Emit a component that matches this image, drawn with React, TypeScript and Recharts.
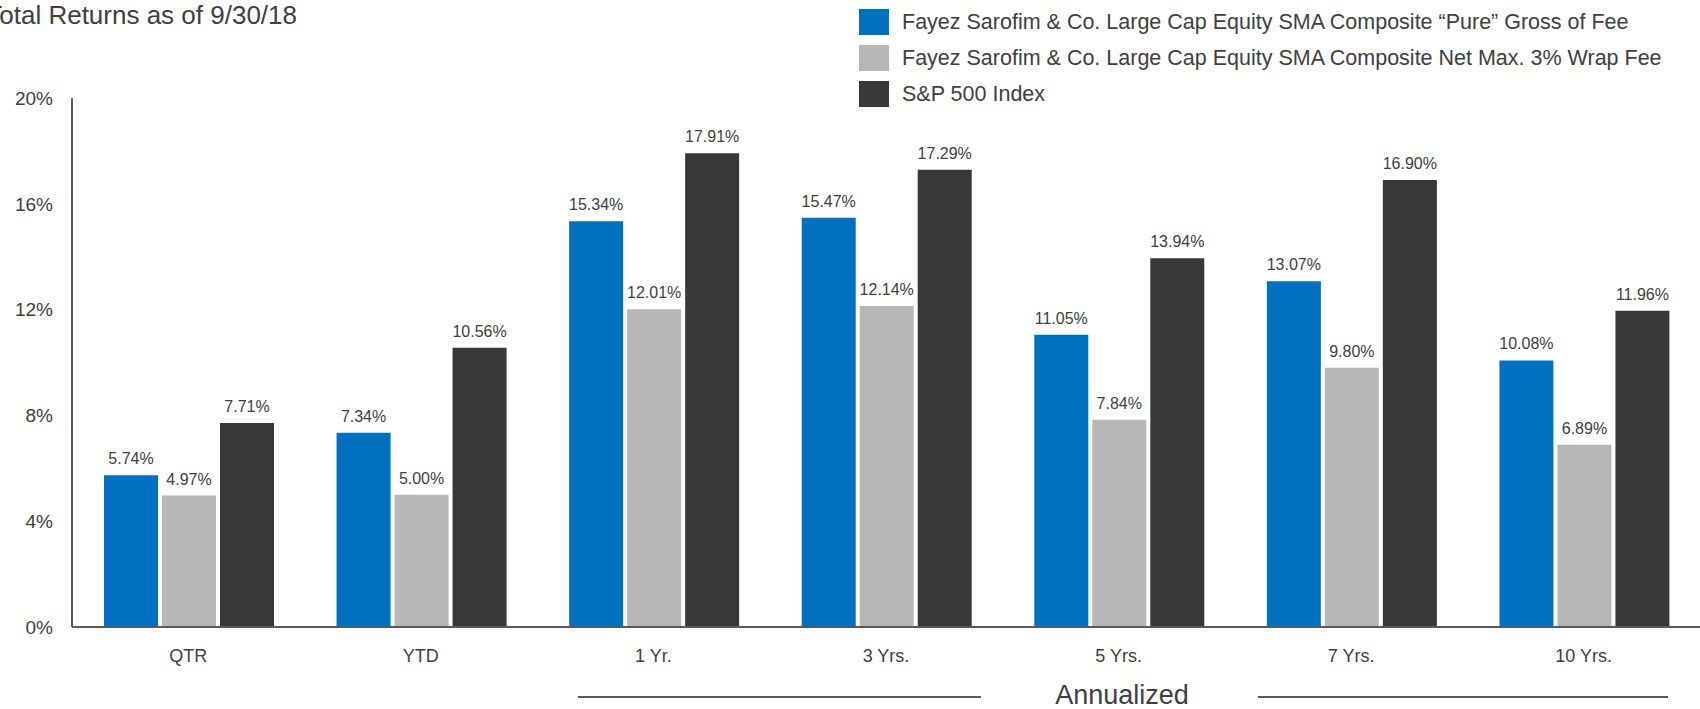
import { BarChart, Bar, XAxis, YAxis, LabelList } from "recharts";

const periods = ["QTR", "YTD", "1 Yr.", "3 Yrs.", "5 Yrs.", "7 Yrs.", "10 Yrs."];
const pureGross = [5.74, 7.34, 15.34, 15.47, 11.05, 13.07, 10.08];
const netWrap = [4.97, 5.0, 12.01, 12.14, 7.84, 9.8, 6.89];
const sp500 = [7.71, 10.56, 17.91, 17.29, 13.94, 16.9, 11.96];
const yTicks = [0, 4, 8, 12, 16, 20];

const seriesNames = [
  "Fayez Sarofim & Co. Large Cap Equity SMA Composite \u201cPure\u201d Gross of Fee",
  "Fayez Sarofim & Co. Large Cap Equity SMA Composite Net Max. 3% Wrap Fee",
  "S&P 500 Index",
];
const colors = ["#0070C0", "#B7B7B7", "#383838"];

const chartData = periods.map((p, i) => ({
  period: p,
  gross: pureGross[i],
  net: netWrap[i],
  sp: sp500[i],
}));

const FONT = "'Liberation Sans', Arial, sans-serif";
const fmt = (v: any) => `${Number(v).toFixed(2)}%`;
const labelStyle = { fontSize: 16, fill: "#404040", fontFamily: FONT };

function LegendBox() {
  return (
    <div style={{ position: "absolute", top: 4, left: 859, fontFamily: FONT }}>
      {seriesNames.map((name, i) => (
        <div
          key={name}
          style={{ display: "flex", alignItems: "center", height: 36 }}
        >
          <div
            style={{ width: 30, height: 26, background: colors[i], marginRight: 13 }}
          />
          <span style={{ fontSize: 21.5, color: "#404040", whiteSpace: "nowrap" }}>
            {name}
          </span>
        </div>
      ))}
    </div>
  );
}

export default function App() {
  return (
    <div style={{ position: "absolute", left: 0, top: 0, width: 1700, height: 709, overflow: "hidden" }}>
      <BarChart
        width={1700}
        height={709}
        data={chartData}
        margin={{ top: 98, right: 0, bottom: 32, left: 0 }}
        barCategoryGap={32}
        barGap={4}
      >
        <text
          x={297}
          y={24}
          textAnchor="end"
          fontSize={26}
          fill="#404040"
          fontFamily={FONT}
        >
          Total Returns as of 9/30/18
        </text>
        <XAxis
          dataKey="period"
          height={50}
          tickLine={false}
          tickSize={0}
          tickMargin={22}
          axisLine={{ stroke: "#595959", strokeWidth: 2 }}
          tick={{ fontSize: 18, fill: "#404040", fontFamily: FONT }}
        />
        <YAxis
          width={72}
          domain={[0, 20]}
          ticks={yTicks}
          tickFormatter={(v) => `${v}%`}
          tickLine={false}
          tickSize={0}
          tickMargin={19}
          axisLine={{ stroke: "#595959", strokeWidth: 2 }}
          tick={{ fontSize: 19, fill: "#404040", fontFamily: FONT }}
        />
        <Bar dataKey="gross" name={seriesNames[0]} fill={colors[0]} isAnimationActive={false}>
          <LabelList dataKey="gross" position="top" offset={11} formatter={fmt} style={labelStyle} />
        </Bar>
        <Bar dataKey="net" name={seriesNames[1]} fill={colors[1]} isAnimationActive={false}>
          <LabelList dataKey="net" position="top" offset={11} formatter={fmt} style={labelStyle} />
        </Bar>
        <Bar dataKey="sp" name={seriesNames[2]} fill={colors[2]} isAnimationActive={false}>
          <LabelList dataKey="sp" position="top" offset={11} formatter={fmt} style={labelStyle} />
        </Bar>
        <line x1={578} y1={697} x2={981} y2={697} stroke="#595959" strokeWidth={2} />
        <line x1={1258} y1={697} x2={1668} y2={697} stroke="#595959" strokeWidth={2} />
        <text
          x={1122}
          y={704}
          textAnchor="middle"
          fontSize={27}
          fill="#404040"
          fontFamily={FONT}
        >
          Annualized
        </text>
      </BarChart>
      <LegendBox />
    </div>
  );
}
